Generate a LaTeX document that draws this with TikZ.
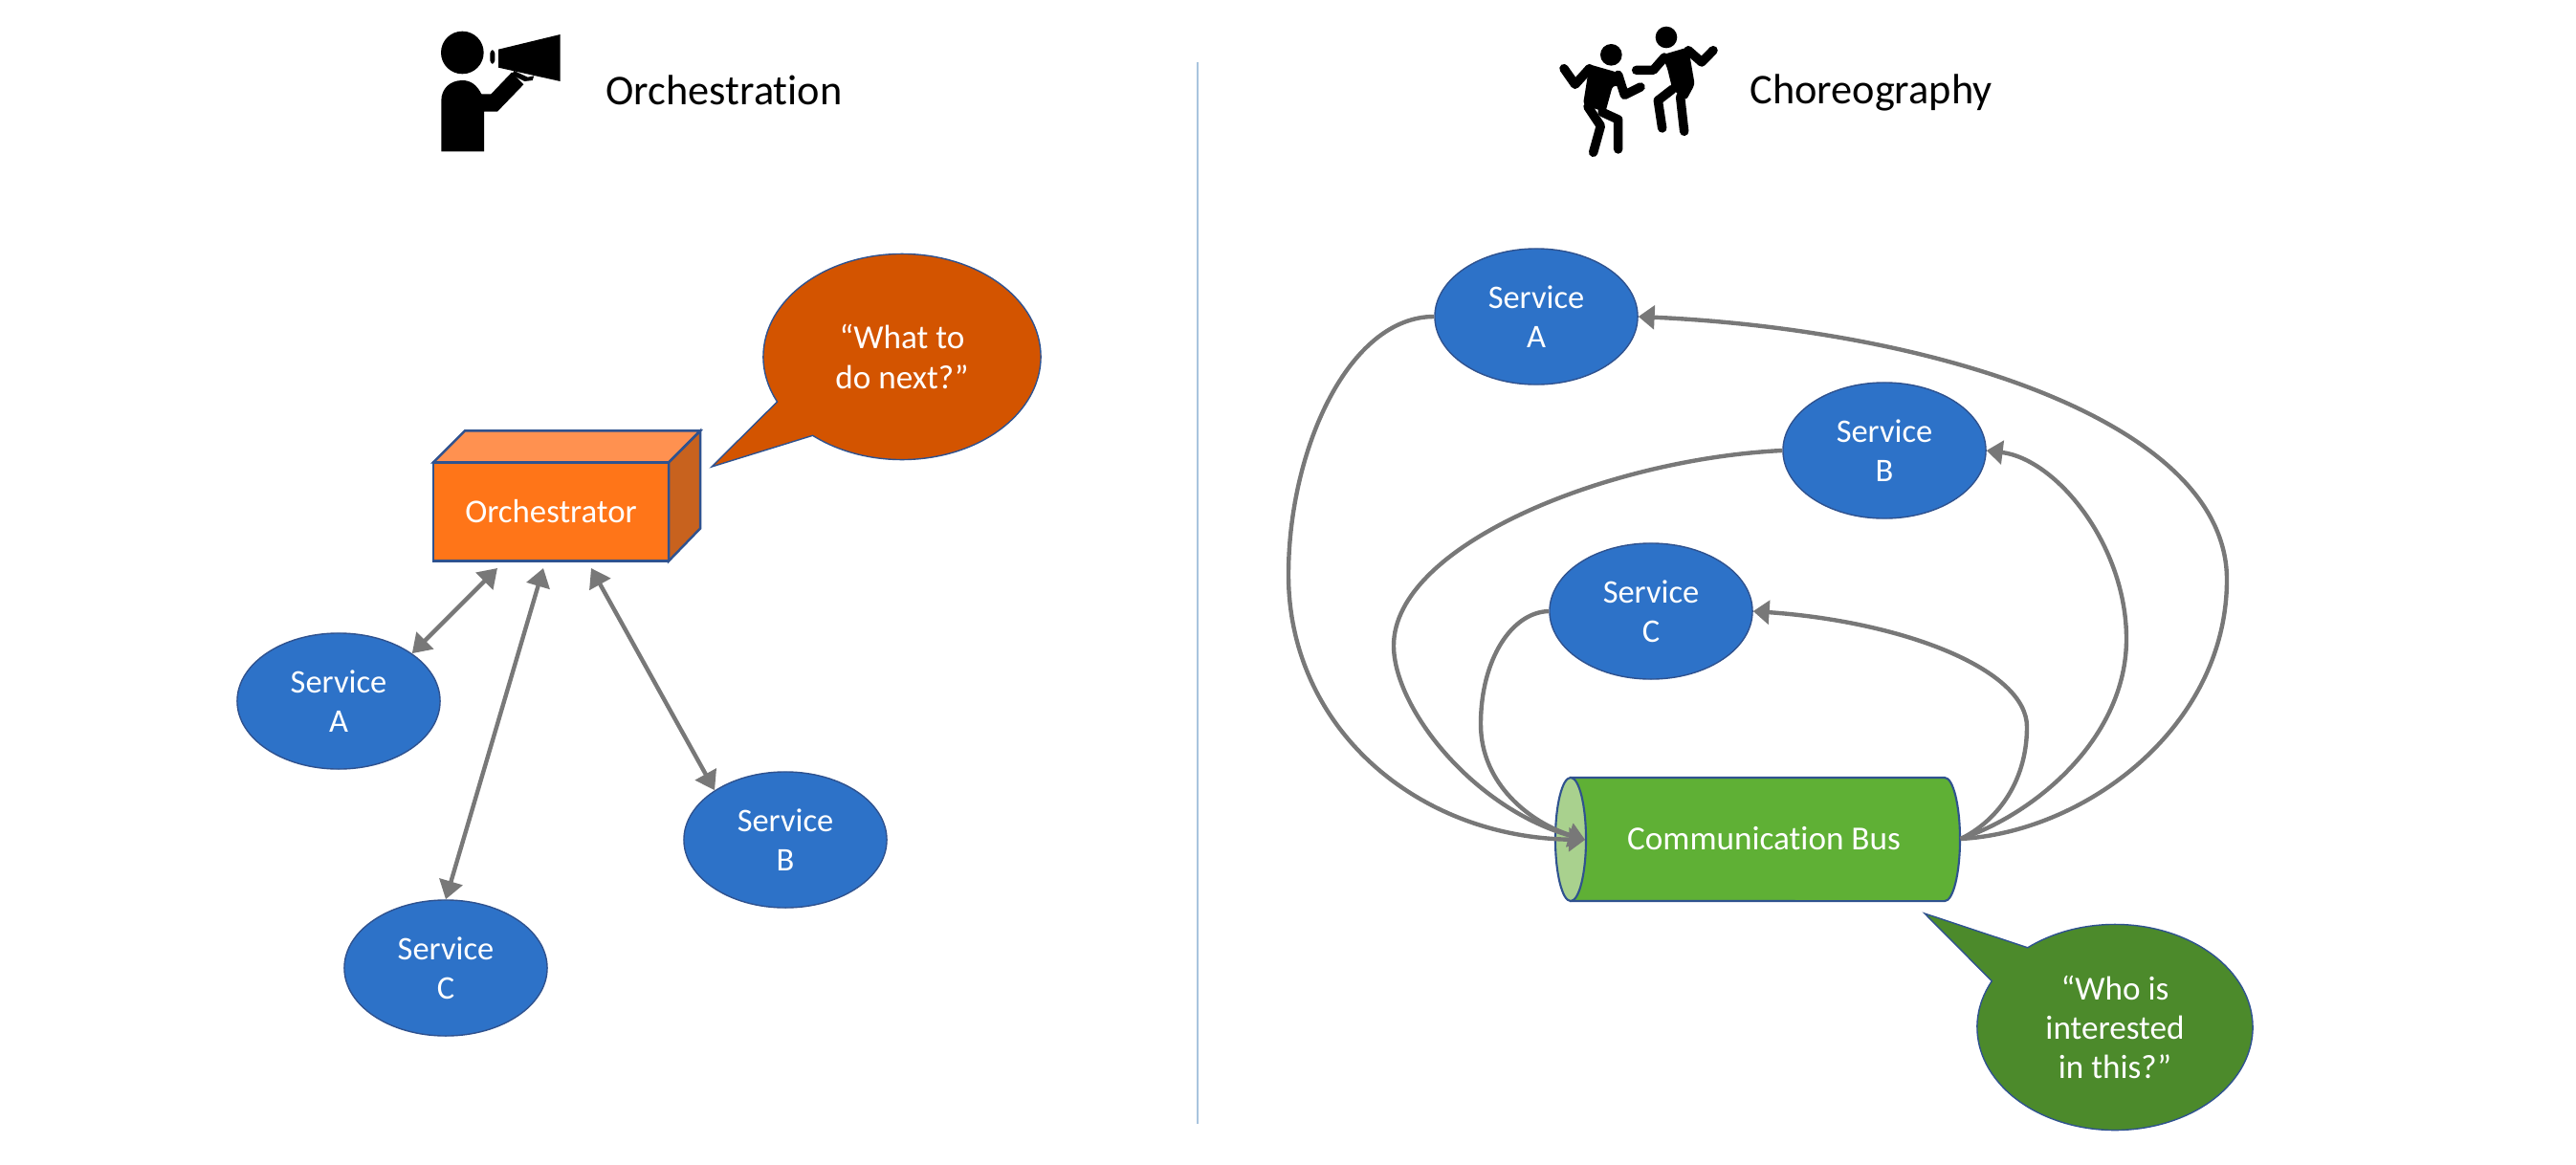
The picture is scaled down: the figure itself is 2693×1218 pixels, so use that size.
\documentclass[tikz,border=0pt]{standalone}
\usepackage{fontspec}
\setmainfont{Carlito}[Ligatures=CommonOff]
\usetikzlibrary{arrows.meta,shapes.geometric,shapes.callouts}
\definecolor{svcblue}{HTML}{2D72C8}
\definecolor{edgeblue}{HTML}{2F528F}
\definecolor{linkgray}{HTML}{787878}
\definecolor{orchfront}{HTML}{FF7518}
\definecolor{orchtop}{HTML}{FF9150}
\definecolor{orchside}{HTML}{C8621E}
\definecolor{askorange}{HTML}{D35400}
\definecolor{busgreen}{HTML}{5FB035}
\definecolor{busend}{HTML}{A9D18E}
\definecolor{askgreen}{HTML}{4C8A2B}
\definecolor{splitline}{HTML}{A9C4DE}
\tikzset{
  service/.style={ellipse,draw=edgeblue,line width=0.4pt,fill=svcblue,text=white,align=center,
    minimum width=2.12cm,minimum height=1.42cm,inner sep=0pt,font=\fontsize{9.8}{11.7}\selectfont},
  header/.style={anchor=base,font=\fontsize{12.6}{15}\selectfont},
  link/.style={draw=linkgray,line width=1.25pt,-{Triangle[length=4.8pt,width=7pt]}},
  biglink/.style={draw=linkgray,line width=1.25pt,{Triangle[length=5.5pt,width=7pt]}-{Triangle[length=5.5pt,width=7pt]}},
  ask/.style={ellipse callout,draw=edgeblue,line width=0.4pt,text=white,align=center,inner sep=0pt,outer sep=0pt,
    callout pointer arc=24,font=\fontsize{10}{11.7}\selectfont},
  face/.style={draw=edgeblue,line width=0.7pt},
  limb/.style={line width=2.7pt,line cap=round,line join=round}
}
\begin{document}
\begin{tikzpicture}[x=0.01cm,y=-0.01cm]
\useasboundingbox (0,0) rectangle (2693,1218);

% headers
\node[header] (orchtitle) at (757,110) {Orchestration};
\node[header] (choreotitle) at (1956,108) {Choreography};
\draw[splitline,line width=0.6pt] (1252,65) -- (1252,1175);

% speaker
\begin{scope}[shift={(420,10)},scale=1/3]
\fill (190,135) circle (67);
\fill (124,445) -- (258,445) -- (258,320) -- (300,320) -- (382,235) -- (345,197) -- (280,265) -- (250,265)
  .. controls (235,235) and (215,222) .. (190,222) .. controls (150,222) and (124,250) .. (124,285) -- cycle;
\fill (303,125) -- (497,78) -- (497,225) -- (303,182) -- cycle;
\fill[rounded corners=1pt] (277,127) rectangle (292,170);
\fill (352,192) -- (345,205) -- (385,225) -- (410,222) -- (415,208) -- (395,212) -- cycle;
\end{scope}

% dancers
\begin{scope}[shift={(1600,10)},scale=1/3]
\fill (253,142) circle (34);
\fill (426,87) circle (34);
\fill[rounded corners=1pt] (185,172) -- (272,197) -- (300,245) -- (258,238) -- (235,322) -- (165,298) -- cycle;
\draw[limb] (105,185) -- (140,235) -- (185,185);
\draw[limb] (275,205) -- (295,268) -- (345,243);
\draw[limb] (180,305) -- (220,365) -- (197,448);
\draw[limb] (225,322) -- (275,345) -- (275,438);
\fill[rounded corners=1pt] (410,143) -- (495,118) -- (515,235) -- (488,285) -- (445,250) -- (428,180) -- cycle;
\draw[limb] (332,190) -- (385,190) -- (420,150);
\draw[limb] (495,128) -- (537,165) -- (573,128);
\draw[limb] (490,240) -- (470,275) -- (482,382);
\draw[limb] (445,250) -- (400,285) -- (413,372);
\end{scope}

% services of both halves
\foreach \nm/\a/\b/\l in {orA/354/733/A,orB/821/878/B,orC/466/1012/C,coA/1606/331/A,coB/1970/471/B,coC/1726/639/C}
  {\node[service] (\nm) at (\a,\b) {Service\\\l};}

% orchestrator box
\node[rectangle,face,fill=orchfront,text=white,minimum width=2.46cm,minimum height=1.03cm,outer sep=0pt,
  inner sep=0pt,font=\fontsize{9.9}{11.7}\selectfont] (orch) at (576,535) {Orchestrator};
\draw[face,fill=orchtop] (orch.north west) -- ++(33,-33) -- ++(246,0) -- (orch.north east) -- cycle;
\draw[face,fill=orchside] (orch.north east) -- ++(33,-33) -- ++(0,102) -- (orch.south east) -- cycle;
\node[ask,fill=askorange,minimum width=2.90cm,minimum height=2.15cm,callout absolute pointer={(744,488)}] (askorch) at (943,373)
  {``What to\\do next?''};

\coordinate (orchA) at (520,594);
\coordinate (orchC) at (568,594);
\coordinate (orchB) at (618,594);
\draw[biglink] (orA.33) -- (orchA);
\draw[biglink] (orC.north) -- (orchC);
\draw[biglink] (orB.145) -- (orchB);

% bus
\draw[edgeblue,line width=0.6pt,fill=busgreen] (1642,813) -- (2033,813)
  arc[start angle=90,end angle=-90,x radius=0.16cm,y radius=0.645cm] -- (1642,942) -- cycle;
\draw[edgeblue,line width=0.6pt,fill=busend] (1642,877.5) ellipse [x radius=0.16cm,y radius=0.645cm];
\node[rectangle,text=white,minimum width=4.11cm,minimum height=1.29cm,inner sep=0pt,outer sep=0pt,
  font=\fontsize{10}{11.7}\selectfont] (bus) at (1844,877) {Communication Bus};
\node[ask,fill=askgreen,minimum width=2.88cm,minimum height=2.15cm,callout absolute pointer={(2012,955)}] (askbus) at (2211,1074)
  {``Who is\\interested\\in this?''};

\coordinate (busin) at (1657,878);
\draw[link] (coA.west) .. controls (1410,331) and (1347,470) .. (1347,601)
  .. controls (1347,760) and (1480,875) .. (busin);
\draw[link] (coB.west) .. controls (1680,480) and (1457,570) .. (1457,675)
  .. controls (1457,740) and (1540,845) .. (busin);
\draw[link] (coC.west) .. controls (1580,640) and (1548,690) .. (1548,757)
  .. controls (1548,820) and (1600,860) .. (busin);
\draw[link] (bus.east) .. controls (2180,870) and (2328,760) .. (2328,606)
  .. controls (2328,440) and (2020,345) .. (coA.east);
\draw[link] (bus.east) .. controls (2130,850) and (2223,770) .. (2223,668)
  .. controls (2223,570) and (2150,480) .. (coB.east);
\draw[link] (bus.east) .. controls (2085,860) and (2119,820) .. (2119,760)
  .. controls (2119,700) and (1990,650) .. (coC.east);
\end{tikzpicture}
\end{document}
